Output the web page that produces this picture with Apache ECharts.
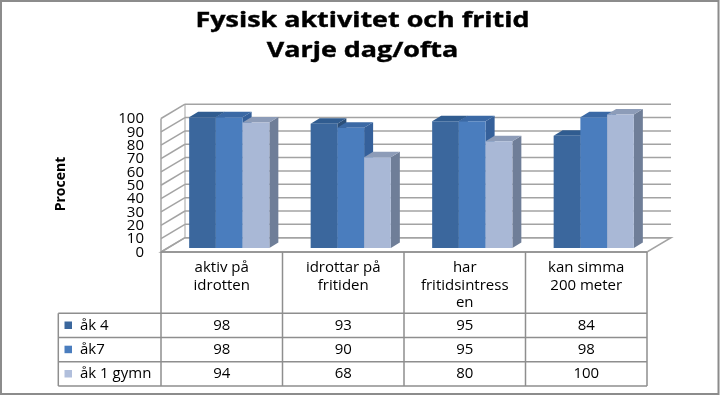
<!DOCTYPE html>
<html>
<head>
<meta charset="utf-8">
<script src="https://cdn.jsdelivr.net/npm/echarts@6/dist/echarts.min.js"></script>
<style>html,body{margin:0;padding:0;background:#fff}#c{width:720px;height:396px}</style>
</head>
<body>
<div id="c"></div>
<script>
// ---- data ----
const categories = ['aktiv på\nidrotten', 'idrottar på\nfritiden', 'har\nfritidsintress\nen', 'kan simma\n200 meter'];
const seriesNames = ['åk 4', 'åk7', 'åk 1 gymn'];
const ak4 = [98, 93, 95, 84];
const ak7 = [98, 90, 95, 98];
const ak1gymn = [94, 68, 80, 100];
const yTicks = [0, 10, 20, 30, 40, 50, 60, 70, 80, 90, 100];
const titleLines = ['Fysisk aktivitet och fritid', 'Varje dag/ofta'];
const yName = 'Procent';

// ---- styling / layout ----
const FONT = '"Open Sans", "Noto Sans", sans-serif';
const FACE = [
  {front: '#3B679D', side: '#2C4F79', top: '#305C90'},
  {front: '#4A7DBE', side: '#35609A', top: '#3B69A5'},
  {front: '#A9B8D6', side: '#6F7E98', top: '#8D9CB8'}
];
const KEY = ['#3B679D', '#4A7DBE', '#B1BFDC'];
const LINE = '#A3A3A3';
const TBL = '#8E8E8E';
const WALL_DX = 24, WALL_DY = -14.3;
const BAR_DX = 7.5, BAR_DY = -4;
const DEP_X = 9, DEP_Y = -5.5;
const HEADER_BOTTOM = 313.3;
const ROW_LINES = [337.6, 361.8, 386];
const ROW_Y = [325.5, 349.7, 374];
const LEG_LEFT = 58.3;
const YLABEL_GAP = 17;

const allSeries = [ak4, ak7, ak1gymn];

const chart = echarts.init(document.getElementById('c'), null, {renderer: 'canvas'});

function barRender(sIdx) {
  return function (params, api) {
    const cat = api.value(0), v = api.value(1);
    const c0 = api.coord([cat, 0]);
    const c1 = api.coord([cat, v]);
    const band = api.size([1, 0])[0];
    const w = band * 0.22;
    const x0 = c0[0] + BAR_DX - 1.5 * w + sIdx * w;
    const yb = c0[1] + BAR_DY, yt = c1[1] + BAR_DY;
    const f = FACE[sIdx];
    return {
      type: 'group',
      children: [
        {type: 'polygon', shape: {points: [[x0 + w, yt], [x0 + w + DEP_X, yt + DEP_Y], [x0 + w + DEP_X, yb + DEP_Y], [x0 + w, yb]]}, style: {fill: f.side}},
        {type: 'polygon', shape: {points: [[x0, yt], [x0 + w, yt], [x0 + w + DEP_X, yt + DEP_Y], [x0 + DEP_X, yt + DEP_Y]]}, style: {fill: f.top}},
        {type: 'rect', shape: {x: x0, y: yt, width: w, height: yb - yt}, style: {fill: f.front}}
      ]
    };
  };
}

// walls: back gridlines + side wall slants + tick labels, from tick values
function wallRender(params, api) {
  const v = api.value(0);
  const left = api.coord([0, v]);
  const right = api.coord([categories.length - 1, v]);
  const band = api.size([1, 0])[0];
  const xl = left[0] - band / 2, xr = right[0] + band / 2;
  const y = left[1];
  const ch = [
    {type: 'line', shape: {x1: xl + WALL_DX, y1: y + WALL_DY, x2: xr + WALL_DX, y2: y + WALL_DY}, style: {stroke: LINE, lineWidth: 1.5}},
    {type: 'line', shape: {x1: xl, y1: y, x2: xl + WALL_DX, y2: y + WALL_DY}, style: {stroke: LINE, lineWidth: 1.5}},
    {type: 'text', x: xl - YLABEL_GAP, y: y + 0.5, style: {text: String(v), font: '15px ' + FONT, fill: '#000', align: 'right', verticalAlign: 'middle'}}
  ];
  if (params.dataIndex === 0) {
    const top = api.coord([0, yTicks[yTicks.length - 1]])[1];
    ch.unshift({type: 'polygon', shape: {points: [[xl, y], [xr, y], [xr + WALL_DX, y + WALL_DY], [xl + WALL_DX, y + WALL_DY]]}, style: {fill: '#fff', stroke: LINE, lineWidth: 1.5}});
    ch.push({type: 'line', shape: {x1: xl, y1: top, x2: xl, y2: y}, style: {stroke: LINE, lineWidth: 1.5}});
    ch.push({type: 'line', shape: {x1: xl + WALL_DX, y1: top + WALL_DY, x2: xl + WALL_DX, y2: y + WALL_DY}, style: {stroke: LINE, lineWidth: 1}});
  }
  return {type: 'group', children: ch};
}

// data table values
const tableData = [];
allSeries.forEach((arr, r) => arr.forEach((v, c) => tableData.push([c, r, v])));
function tableRender(params, api) {
  const c = api.value(0), r = api.value(1), v = api.value(2);
  const x = api.coord([c, 0])[0];
  return {type: 'text', x: x, y: ROW_Y[r], style: {text: String(v), font: '15px ' + FONT, fill: '#000', align: 'center', verticalAlign: 'middle'}};
}

// table frame + legend column
function frameRender(params, api) {
  const band = api.size([1, 0])[0];
  const c0 = api.coord([0, 0]);
  const xl = c0[0] - band / 2;
  const xr = api.coord([categories.length - 1, 0])[0] + band / 2;
  const y0 = c0[1];
  const ch = [];
  for (let i = 0; i <= categories.length; i++) {
    const x = xl + i * band;
    ch.push({type: 'line', shape: {x1: x, y1: y0, x2: x, y2: ROW_LINES[ROW_LINES.length - 1]}, style: {stroke: TBL, lineWidth: 1.5}});
  }
  [HEADER_BOTTOM].concat(ROW_LINES).forEach(y => {
    ch.push({type: 'line', shape: {x1: LEG_LEFT, y1: y, x2: xr, y2: y}, style: {stroke: TBL, lineWidth: 1.5}});
  });
  ch.push({type: 'line', shape: {x1: LEG_LEFT, y1: HEADER_BOTTOM, x2: LEG_LEFT, y2: ROW_LINES[ROW_LINES.length - 1]}, style: {stroke: TBL, lineWidth: 1.5}});
  ch.push({type: 'line', shape: {x1: xl, y1: y0, x2: xr, y2: y0}, style: {stroke: TBL, lineWidth: 1.5}});
  seriesNames.forEach((n, r) => {
    ch.push({type: 'rect', shape: {x: 64.5, y: ROW_Y[r] - 4, width: 7.5, height: 7.5}, style: {fill: KEY[r]}});
    ch.push({type: 'text', x: 80, y: ROW_Y[r], style: {text: n, font: '15px ' + FONT, fill: '#000', align: 'left', verticalAlign: 'middle'}});
  });
  return {type: 'group', children: ch};
}

const option = {
  animation: false,
  backgroundColor: '#fff',
  grid: [{left: 161, right: 73, top: 118.5, bottom: 144, containLabel: false}],
  xAxis: [{
    type: 'category', data: categories, gridIndex: 0,
    axisLine: {show: false}, axisTick: {show: false},
    axisLabel: {interval: 0, margin: 7, fontFamily: FONT, fontSize: 15, lineHeight: 17.5, color: '#000', align: 'center'}
  }],
  yAxis: [{
    type: 'value', min: 0, max: 100, interval: 10, gridIndex: 0,
    axisLine: {show: false}, axisTick: {show: false}, splitLine: {show: false},
    axisLabel: {show: false}
  }],
  graphic: [
    {type: 'rect', shape: {x: 1, y: 1, width: 717.5, height: 393}, style: {fill: 'none', stroke: '#8C8C8C', lineWidth: 2}, z: 100},
    {type: 'text', x: 362.5, y: 21, scaleX: 1.28, style: {text: titleLines[0], font: 'bold 21px ' + FONT, fill: '#000', align: 'center', verticalAlign: 'middle', stroke: '#000', lineWidth: 0.4}},
    {type: 'text', x: 362.5, y: 51.5, scaleX: 1.28, style: {text: titleLines[1], font: 'bold 21px ' + FONT, fill: '#000', align: 'center', verticalAlign: 'middle', stroke: '#000', lineWidth: 0.4}},
    {type: 'text', x: 61.5, y: 184, rotation: Math.PI / 2, style: {text: yName, font: 'bold 14px ' + FONT, fill: '#000', align: 'center', verticalAlign: 'middle'}}
  ],
  series: [
    {type: 'custom', name: 'walls', renderItem: wallRender, data: yTicks.map(v => [v]), encode: {y: 0}, z: 1, silent: true, clip: false},
    {type: 'custom', name: seriesNames[0], renderItem: barRender(0), data: ak4.map((v, i) => [i, v]), encode: {x: 0, y: 1}, z: 2, clip: false},
    {type: 'custom', name: seriesNames[1], renderItem: barRender(1), data: ak7.map((v, i) => [i, v]), encode: {x: 0, y: 1}, z: 2, clip: false},
    {type: 'custom', name: seriesNames[2], renderItem: barRender(2), data: ak1gymn.map((v, i) => [i, v]), encode: {x: 0, y: 1}, z: 2, clip: false},
    {type: 'custom', name: 'tableFrame', renderItem: frameRender, data: [[0]], z: 3, silent: true, clip: false},
    {type: 'custom', name: 'table', renderItem: tableRender, data: tableData, z: 3, silent: true, clip: false}
  ]
};
chart.setOption(option);
</script>
</body>
</html>
